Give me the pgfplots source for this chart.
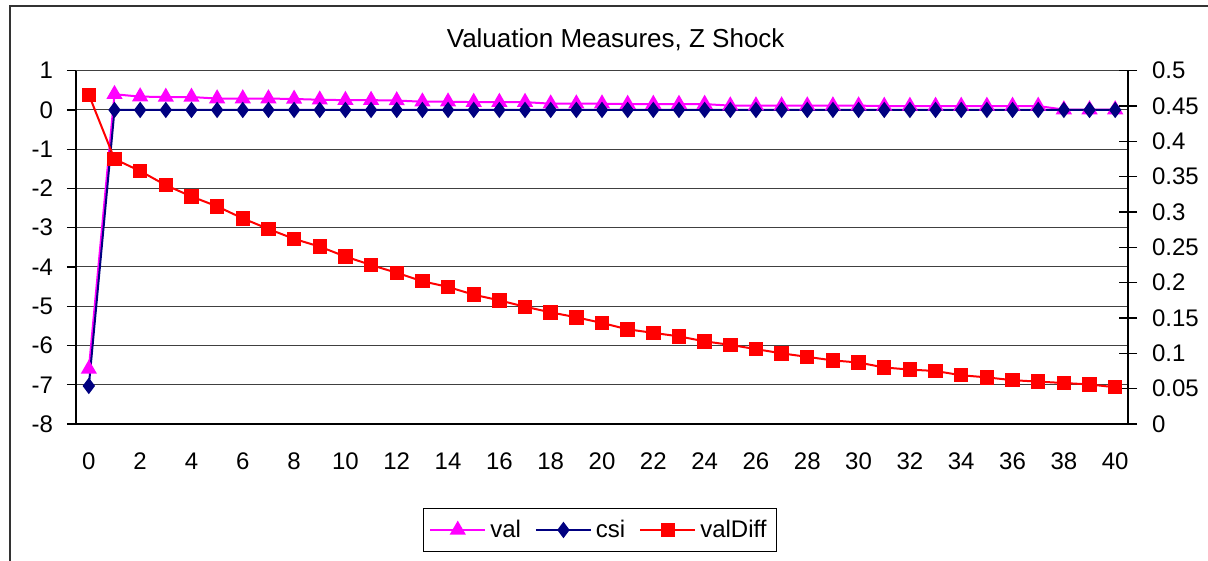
\documentclass[border=0pt]{standalone}
\usepackage{fontspec}
\setmainfont{Liberation Sans}
\usepackage{pgfplots}
\usepackage{pgfplotstable}
\pgfplotsset{compat=1.18}
\definecolor{valc}{RGB}{255,0,255}
\definecolor{csic}{RGB}{0,0,128}
\definecolor{diffc}{RGB}{255,0,0}

\pgfplotstableread{
x y
0 -6.6
1 0.40
2 0.34
3 0.33
4 0.33
5 0.29
6 0.29
7 0.29
8 0.28
9 0.26
10 0.25
11 0.25
12 0.24
13 0.21
14 0.21
15 0.20
16 0.20
17 0.20
18 0.16
19 0.16
20 0.16
21 0.15
22 0.15
23 0.15
24 0.15
25 0.11
26 0.11
27 0.11
28 0.11
29 0.11
30 0.11
31 0.10
32 0.10
33 0.10
34 0.10
35 0.10
36 0.10
37 0.10
38 0.01
39 0.01
40 0.01
}\valtable

\pgfplotstableread{
x y
0 -7.03
1 0
2 0
3 0
4 0
5 0
6 0
7 0
8 0
9 0
10 0
11 0
12 0
13 0
14 0
15 0
16 0
17 0
18 0
19 0
20 0
21 0
22 0
23 0
24 0
25 0
26 0
27 0
28 0
29 0
30 0
31 0
32 0
33 0
34 0
35 0
36 0
37 0
38 0
39 0
40 0
}\csitable

\pgfplotstableread{
x y
0 0.466
1 0.375
2 0.358
3 0.338
4 0.322
5 0.308
6 0.291
7 0.276
8 0.262
9 0.251
10 0.237
11 0.225
12 0.214
13 0.202
14 0.194
15 0.183
16 0.175
17 0.166
18 0.158
19 0.151
20 0.143
21 0.134
22 0.129
23 0.124
24 0.117
25 0.112
26 0.106
27 0.100
28 0.095
29 0.090
30 0.087
31 0.080
32 0.077
33 0.075
34 0.069
35 0.066
36 0.062
37 0.060
38 0.058
39 0.056
40 0.052
}\difftable

\begin{document}
\begin{tikzpicture}
\pgfplotsset{
  common/.style={
    at={(38pt,-212pt)}, anchor=south west,
    width=526pt, height=176.65pt, scale only axis,
    xmin=-0.5, xmax=40.5,
    /pgf/number format/assume math mode=true,
    ticklabel style={font=\fontsize{12}{14}\selectfont},
    axis line style={black, line width=0.6pt},
    every tick/.style={black, line width=0.6pt},
    clip=false,
  },
  valstyle/.style={valc, line width=1pt, mark=triangle*, mark size=3.7pt, mark options={solid, fill=valc, draw=valc}},
  csistyle/.style={csic, line width=1pt, mark=diamond*, mark size=3.3pt, mark options={solid, fill=csic, draw=csic}},
  diffstyle/.style={diffc, line width=1pt, mark=square*, mark size=3.1pt, mark options={solid, fill=diffc, draw=diffc}},
}
\draw[black!80, line width=0.6pt] (5pt,-300pt) -- (5pt,-3pt) -- (620pt,-3pt);
\begin{axis}[common,
  axis x line*=bottom, axis y line*=left,
  ymin=-8, ymax=1, ytick={-8,-7,-6,-5,-4,-3,-2,-1,0,1},
  yticklabels={-8,-7,-6,-5,-4,-3,-2,-1,0,1},
  yticklabel style={xshift=-3.5pt},
  xtick={0,2,...,40},
  xticklabels={0,2,4,6,8,10,12,14,16,18,20,22,24,26,28,30,32,34,36,38,40},
  xticklabel style={yshift=-6.5pt},
  x tick style={draw=none},
  minor xtick={-0.5,0.5,...,40.5},
  tick align=outside,
  major tick length=4.5pt, minor tick length=4pt,
  ymajorgrids, grid style={black!75, line width=0.5pt},
  title={Valuation Measures, Z Shock},
  title style={at={(0.513,1.087)}, anchor=center, yshift=-6pt, font=\fontsize{13}{15}\selectfont},
]
\addplot[valstyle] table[x=x,y=y] {\valtable};
\addplot[csistyle] table[x=x,y=y] {\csitable};
\end{axis}
\begin{axis}[common,
  axis y line*=right, axis x line=none,
  ymin=0, ymax=0.5,
  ytick={0,0.05,0.1,0.15,0.2,0.25,0.3,0.35,0.4,0.45,0.5},
  yticklabels={0,0.05,0.1,0.15,0.2,0.25,0.3,0.35,0.4,0.45,0.5},
  yticklabel style={xshift=4pt},
  tick align=center, major tick length=9pt,
  legend columns=3,
  legend style={at={(0.498,-0.300)}, anchor=center, draw=black, line width=0.5pt,
    font=\fontsize{12}{14}\selectfont, inner xsep=3pt, inner ysep=3.5pt,
    /tikz/every even column/.append style={column sep=5pt}},
  legend image code/.code={\draw[mark repeat=2, mark phase=2] plot coordinates {(0pt,0pt) (13.75pt,0pt) (27.5pt,0pt)};},
]
\addlegendimage{valstyle}
\addlegendentry{val}
\addlegendimage{csistyle}
\addlegendentry{csi}
\addplot[diffstyle] table[x=x,y=y] {\difftable};
\addlegendentry{valDiff}
\end{axis}
\pgfresetboundingbox
\useasboundingbox (0pt,0pt) rectangle (604pt,-280.5pt);
\end{tikzpicture}
\end{document}
